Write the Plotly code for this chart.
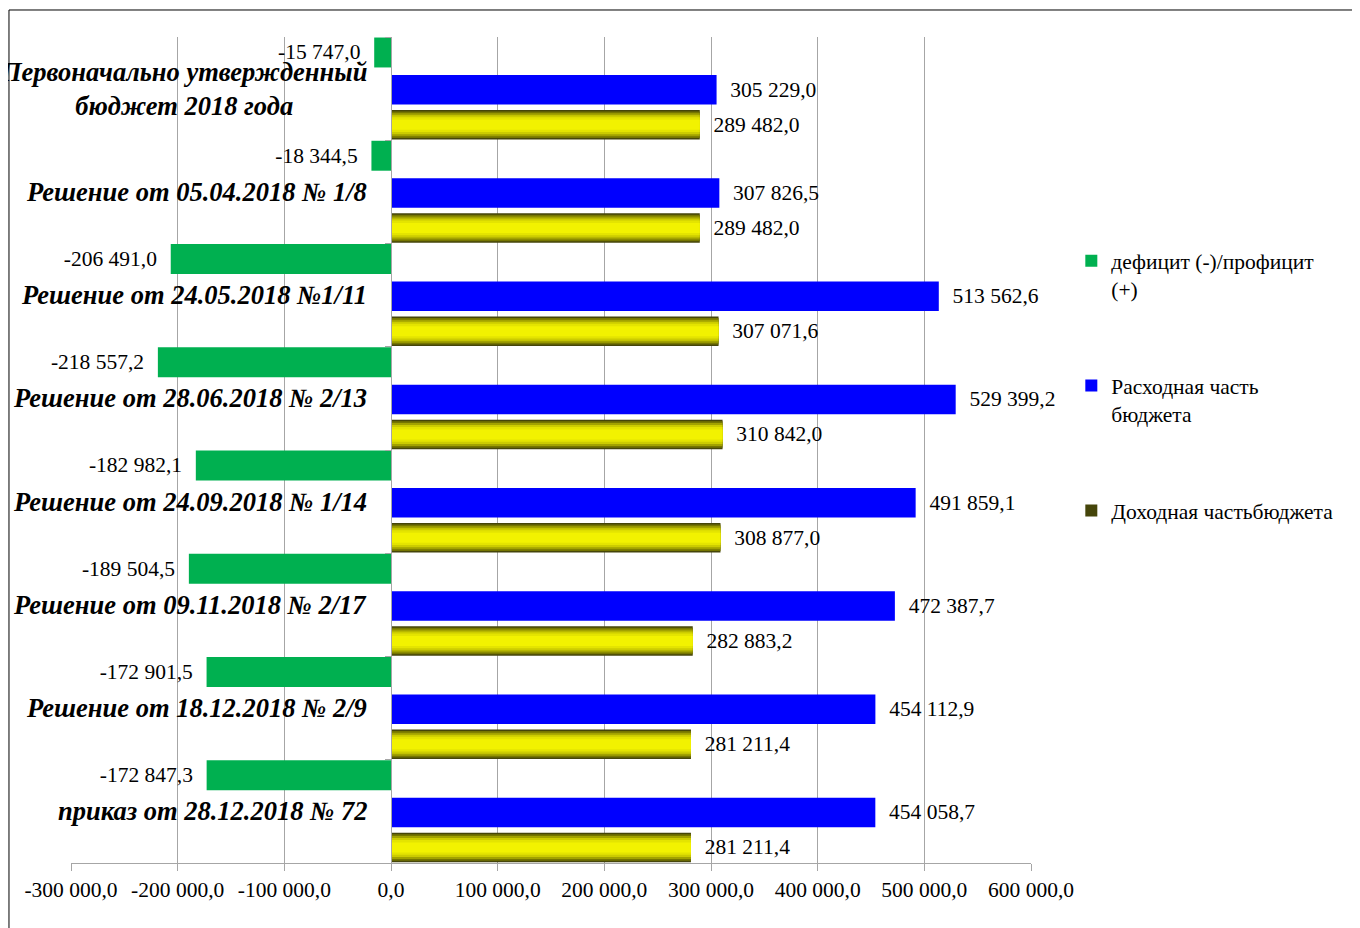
import plotly.graph_objects as go

categories = [
    "Первоначально утвержденный<br>бюджет 2018 года",
    "Решение от 05.04.2018 № 1/8",
    "Решение от 24.05.2018 №1/11",
    "Решение от 28.06.2018 № 2/13",
    "Решение от 24.09.2018 № 1/14",
    "Решение от 09.11.2018 № 2/17",
    "Решение от 18.12.2018 № 2/9",
    "приказ от 28.12.2018 № 72",
]
deficit = [-15747.0, -18344.5, -206491.0, -218557.2, -182982.1, -189504.5, -172901.5, -172847.3]
expenses = [305229.0, 307826.5, 513562.6, 529399.2, 491859.1, 472387.7, 454112.9, 454058.7]
income = [289482.0, 289482.0, 307071.6, 310842.0, 308877.0, 282883.2, 281211.4, 281211.4]

tick_vals = [-300000, -200000, -100000, 0, 100000, 200000, 300000, 400000, 500000, 600000]
tick_text = ["-300 000,0", "-200 000,0", "-100 000,0", "0,0", "100 000,0", "200 000,0",
             "300 000,0", "400 000,0", "500 000,0", "600 000,0"]

series_names = ["дефицит (-)/профицит<br>(+)", "Расходная часть<br>бюджета", "Доходная частьбюджета"]

SERIF = "Liberation Serif, Times New Roman, serif"
PAD = "\u00a0\u00a0"


def fmt(v):
    s = f"{abs(v):,.1f}".replace(",", " ").replace(".", ",")
    return ("-" if v < 0 else "") + s


def lab(v):
    return (fmt(v) + PAD) if v < 0 else (PAD + fmt(v))


ids = list(range(len(categories)))
fig = go.Figure()

common = dict(orientation="h", textposition="outside", constraintext="none", cliponaxis=False,
              outsidetextfont=dict(family=SERIF, size=21.5, color="#000000"), hoverinfo="x+name")

fig.add_trace(go.Bar(y=ids, x=deficit, name=series_names[0], legendgroup="g1",
                     marker=dict(color="#00b050", line=dict(width=0)),
                     text=[lab(v) for v in deficit], offset=-0.495, width=0.29, **common))
fig.add_trace(go.Bar(y=ids, x=expenses, name=series_names[1], legendgroup="g2",
                     marker=dict(color="#0000ff", line=dict(width=0)),
                     text=[lab(v) for v in expenses], offset=-0.132, width=0.285, **common))
# income base (dark bevel edge) + lighter layers to imitate the gradient
base_off, base_w = 0.207, 0.285
fig.add_trace(go.Bar(y=ids, x=income, name=series_names[2], legendgroup="g3",
                     marker=dict(color="#45450a", line=dict(width=0)),
                     text=[lab(v) for v in income], offset=base_off, width=base_w, **common))
layers = [(0.90, "#757500"), (0.78, "#a2a200"), (0.64, "#cccc00"), (0.50, "#e4e400"), (0.34, "#f2f200")]
for frac, col in layers:
    w = base_w * frac
    fig.add_trace(go.Bar(y=ids, x=income, orientation="h", legendgroup="g3", showlegend=False,
                         marker=dict(color=col, line=dict(width=0)), hoverinfo="skip",
                         offset=base_off + (base_w - w) / 2, width=w))

for i, c in enumerate(categories):
    fig.add_annotation(x=0, y=i, xref="x", yref="y", text=c, showarrow=False,
                       xanchor="right", yanchor="middle", xshift=-22, align="center",
                       font=dict(family=SERIF, size=26.5, color="#000000", weight="bold", style="italic"))

fig.update_layout(
    width=1360, height=928,
    barmode="overlay",
    paper_bgcolor="white", plot_bgcolor="white",
    margin=dict(l=63, r=337, t=29, b=73, autoexpand=False),
    font=dict(family=SERIF, size=21, color="#000000"),
    showlegend=True,
    legend=dict(x=1.042, xanchor="left", y=0.754, yanchor="top", tracegroupgap=66,
                font=dict(family=SERIF, size=21.5, color="#000000"), bgcolor="rgba(0,0,0,0)",
                itemwidth=30, valign="top"),
    shapes=[dict(type="rect", xref="paper", yref="paper", x0=-0.0646, x1=1.6, y0=-0.3, y1=1.0327,
                 line=dict(color="#000000", width=1), fillcolor="rgba(0,0,0,0)", layer="below")],
)
fig.update_xaxes(range=[-300000, 600000], tickvals=tick_vals, ticktext=tick_text,
                 showgrid=True, gridcolor="#a6a6a6", gridwidth=1,
                 zeroline=True, zerolinecolor="#a6a6a6", zerolinewidth=1,
                 showline=True, linecolor="#a6a6a6", linewidth=1,
                 ticks="outside", ticklen=7, tickcolor="#a6a6a6",
                 tickfont=dict(family=SERIF, size=21.5, color="#000000"), fixedrange=True)
fig.update_yaxes(type="linear", range=[7.5, -0.5], showgrid=False, zeroline=False,
                 showticklabels=False, tickvals=[i + 0.5 for i in range(-1, len(categories))],
                 ticks="outside", ticklen=6, tickcolor="#a6a6a6",
                 showline=True, linecolor="#a6a6a6", linewidth=1,
                 anchor="free", position=1 / 3, fixedrange=True)

fig.write_html("out.html")
